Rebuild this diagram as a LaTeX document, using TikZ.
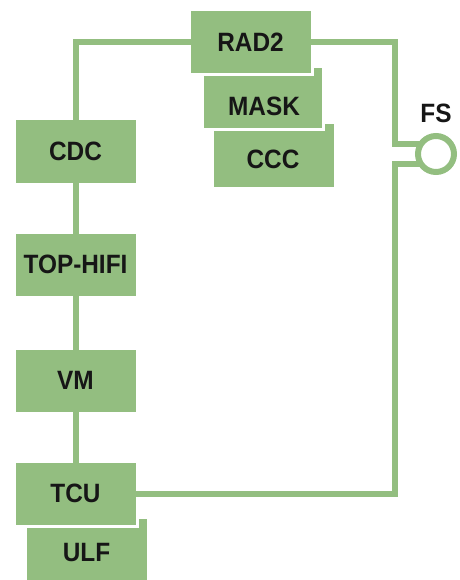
\documentclass[tikz,border=0pt]{standalone}
\usepackage{fontspec}
\setmainfont{Liberation Sans}[FakeStretch=0.92]
\usepackage{tikz}
\usetikzlibrary{positioning}

\definecolor{leaf}{RGB}{147,190,128}
\definecolor{ink}{RGB}{22,22,22}

\tikzset{
  box/.style={draw=white, line width=3pt, fill=leaf, minimum width=123pt,
    minimum height=65pt, inner sep=0pt, outer sep=-1.5pt, text=ink,
    font=\fontsize{26.5}{30}\selectfont\bfseries},
  stackbox/.style={draw=white, line width=3pt, fill=leaf},
  lbl/.style={inner sep=0pt, text=ink, font=\fontsize{26.5}{30}\selectfont\bfseries},
  wire/.style={draw=leaf, line width=6pt},
  ring/.style={circle, draw=leaf, line width=6pt, minimum size=36pt,
    inner sep=0pt, outer sep=0pt},
}

\begin{document}
\begin{tikzpicture}[x=1pt, y=-1pt]
  \useasboundingbox (0,0) rectangle (459,580);
  % Stack on the right
  \path[stackbox] (212,123) rectangle (335,188);
  \node[lbl] (ccc) at (273,159) {CCC};
  \path[stackbox] (202,67) rectangle (323,130);
  \node[lbl] (mask) at (264,106) {MASK};
  \node[box] (rad2) at (250.5,42.5) {RAD2};
  % Column on the left
  \path[stackbox] (25,517) rectangle (148,584);
  \node[lbl] (ulf) at (86.5,553) {ULF};
  \foreach \n/\t/\y in {cdc/CDC/151.5, tophifi/TOP-HIFI/264.5, vm/VM/380.5, tcu/TCU/493.5} {
    \node[box] (\n) at (75.5,\y) {\t};
  }
  \draw[wire] (cdc) -- (tophifi);
  \draw[wire] (tophifi) -- (vm);
  \draw[wire] (vm) -- (tcu);
  \draw[wire] (cdc.north) |- (rad2.west);
  % FS
  \coordinate (rail) at (395,0);
  \node[ring] (fs) at (436,154) {};
  \node[lbl] (fslabel) at (436,113) {FS};
  \draw[wire] (rad2.east) -| (fs.145 -| rail) -- (fs.145);
  \draw[wire] (fs.215) -- (fs.215 -| rail) |- (tcu.east);
\end{tikzpicture}
\end{document}
